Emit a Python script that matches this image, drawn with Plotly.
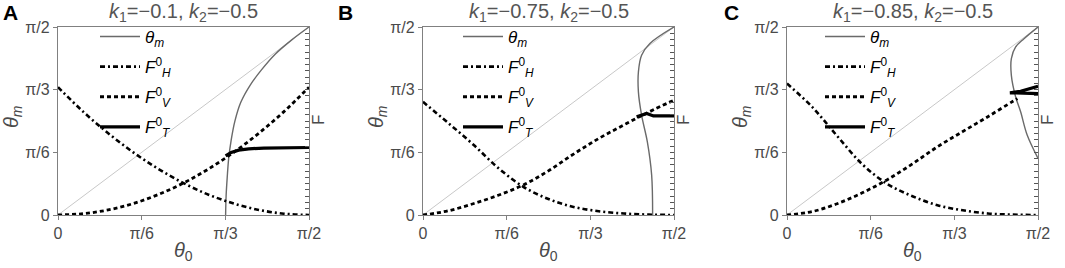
import math
import plotly.graph_objects as go

PI = math.pi
H = PI / 2

# ---------------- data (theta0 / theta_m in radians, F in F-axis units) ----------------
titles = ["<i>k</i><sub>1</sub>=−0.1, <i>k</i><sub>2</sub>=−0.5",
          "<i>k</i><sub>1</sub>=−0.75, <i>k</i><sub>2</sub>=−0.5",
          "<i>k</i><sub>1</sub>=−0.85, <i>k</i><sub>2</sub>=−0.5"]
panel_letters = ["A", "B", "C"]
tick_vals = [0, PI / 6, PI / 3, PI / 2]
tick_text = ["0", "π/6", "π/3", "π/2"]

theta0_grid = [0.0, 0.157, 0.314, 0.471, 0.628, 0.785, 0.942, 1.100, 1.257, 1.414, 1.571]
diag_x = [0.0, 1.571]
diag_y = [0.0, 1.571]

# Panel A  (k1=-0.1)
a_FH = [2.04, 1.65, 1.305, 1.0, 0.735, 0.51, 0.324, 0.183, 0.081, 0.021, 0.0]
a_FV = [0.0, 0.021, 0.081, 0.183, 0.327, 0.51, 0.735, 1.0, 1.305, 1.65, 2.04]
a_tm_x = [1.049, 1.052, 1.059, 1.068, 1.084, 1.107, 1.144, 1.202, 1.272, 1.359, 1.461, 1.571]
a_tm_y = [0.0, 0.157, 0.314, 0.471, 0.628, 0.785, 0.942, 1.084, 1.210, 1.343, 1.461, 1.571]
a_FT_x = [1.049, 1.084, 1.131, 1.194, 1.288, 1.414, 1.571]
a_FT = [0.942, 0.999, 1.035, 1.056, 1.068, 1.074, 1.077]

# Panel B  (k1=-0.75)
b_FH = [1.806, 1.47, 1.125, 0.75, 0.45, 0.255, 0.129, 0.06, 0.024, 0.006, 0.0]
b_FV = [0.0, 0.066, 0.18, 0.315, 0.48, 0.705, 0.972, 1.221, 1.437, 1.644, 1.833]
b_tm_x = [1.437, 1.431, 1.404, 1.368, 1.348, 1.348, 1.368, 1.420, 1.571]
b_tm_y = [0.0, 0.333, 0.611, 0.834, 1.029, 1.195, 1.335, 1.433, 1.571]
b_FT_x = [1.337, 1.400, 1.442, 1.571]
b_FT = [1.566, 1.620, 1.581, 1.581]

# Panel C  (k1=-0.85)
c_FH = [2.097, 1.725, 1.26, 0.81, 0.495, 0.3, 0.156, 0.075, 0.024, 0.006, 0.0]
c_FV_x = theta0_grid[:10] + [1.442]
c_FV = [0.0, 0.054, 0.18, 0.354, 0.564, 0.816, 1.089, 1.332, 1.569, 1.815, 1.857]
c_tm_x = [1.571, 1.503, 1.462, 1.431, 1.404, 1.404, 1.431, 1.483, 1.571]
c_tm_y = [0.473, 0.668, 0.862, 0.986, 1.167, 1.307, 1.404, 1.473, 1.571]
c_FT_x = [1.571, 1.462, 1.395, 1.483, 1.571]
c_FT = [2.055, 1.974, 1.950, 1.938, 1.938]

panels = [
    dict(FH_x=theta0_grid, FH=a_FH, FV_x=theta0_grid, FV=a_FV, tm_x=a_tm_x, tm_y=a_tm_y, FT_x=a_FT_x, FT=a_FT),
    dict(FH_x=theta0_grid, FH=b_FH, FV_x=theta0_grid, FV=b_FV, tm_x=b_tm_x, tm_y=b_tm_y, FT_x=b_FT_x, FT=b_FT),
    dict(FH_x=theta0_grid, FH=c_FH, FV_x=c_FV_x, FV=c_FV, tm_x=c_tm_x, tm_y=c_tm_y, FT_x=c_FT_x, FT=c_FT),
]

# ---------------- layout geometry (pixels) ----------------
W, Hpx = 1065, 268
px_left = [58, 423, 787]
px_right = [309, 674, 1038]
px_top, px_bot = 27, 215
legend_left = [95, 458, 820]
letter_x = [10, 345, 731]

fig = go.Figure()
FONT = "Liberation Sans, Arial, sans-serif"
TXT = "#4a4a4a"

for i, p in enumerate(panels):
    n = "" if i == 0 else str(i + 1)
    xa = "x" + n
    ya = "y" + n
    ya2 = "y" + str(i + 4)
    leg = "legend" + n
    fig.add_trace(go.Scatter(x=diag_x, y=diag_y, mode="lines", xaxis=xa, yaxis=ya,
                             line=dict(color="#c8c8c8", width=1), showlegend=False, hoverinfo="skip"))
    fig.add_trace(go.Scatter(x=p["tm_x"], y=p["tm_y"], mode="lines", xaxis=xa, yaxis=ya,
                             name="<i>θ<sub>m</sub></i>", legend=leg, legendgroup="a",
                             line=dict(color="#6a6a6a", width=1.4, shape="spline")))
    fig.add_trace(go.Scatter(x=p["FH_x"], y=p["FH"], mode="lines", xaxis=xa, yaxis=ya2,
                             name="<i>F</i><sup>0</sup><sub><i>H</i></sub>", legend=leg, legendgroup="b",
                             line=dict(color="black", width=2.6, dash="5px,3px,2px,3px", shape="spline")))
    fig.add_trace(go.Scatter(x=p["FV_x"], y=p["FV"], mode="lines", xaxis=xa, yaxis=ya2,
                             name="<i>F</i><sup>0</sup><sub><i>V</i></sub>", legend=leg, legendgroup="c",
                             line=dict(color="black", width=2.8, dash="4px,3px", shape="spline")))
    fig.add_trace(go.Scatter(x=p["FT_x"], y=p["FT"], mode="lines", xaxis=xa, yaxis=ya2,
                             name="<i>F</i><sup>0</sup><sub><i>T</i></sub>", legend=leg, legendgroup="d",
                             line=dict(color="black", width=3.2)))

    dom_x = [px_left[i] / W, px_right[i] / W]
    dom_y = [1 - px_bot / Hpx, 1 - px_top / Hpx]
    fig.layout["xaxis" + n] = dict(domain=dom_x, anchor=ya, range=[0, H], tickvals=tick_vals, ticktext=tick_text,
                                   showgrid=False, zeroline=False, showline=True, mirror=True,
                                   linecolor="#808080", linewidth=1.3, ticks="outside", ticklen=4,
                                   tickcolor="#808080", tickfont=dict(size=16, color=TXT, family=FONT))
    fig.layout["yaxis" + n] = dict(domain=dom_y, anchor=xa, range=[0, H], tickvals=tick_vals, ticktext=tick_text,
                                   showgrid=False, zeroline=False, showline=True, mirror=True,
                                   linecolor="#808080", linewidth=1.3, ticks="outside", ticklen=4,
                                   tickcolor="#808080", tickfont=dict(size=16, color=TXT, family=FONT))
    fig.layout["yaxis" + str(i + 4)] = dict(overlaying=ya, anchor=xa, side="right", range=[0, 3], dtick=0.1,
                                            showgrid=False, zeroline=False, showline=False,
                                            ticks="inside", ticklen=4, tickcolor="#555555", tickwidth=1,
                                            showticklabels=False)
    fig.layout[leg] = dict(x=legend_left[i] / W, y=1 - 19 / Hpx, xanchor="left", yanchor="top",
                           bgcolor="rgba(0,0,0,0)", traceorder="grouped", tracegroupgap=5, itemwidth=40,
                           font=dict(size=17, color="black", family=FONT))
    cx = (px_left[i] + px_right[i]) / 2 / W
    fig.add_annotation(x=cx, y=1 - 12 / Hpx, xref="paper", yref="paper", text=titles[i], showarrow=False,
                       font=dict(size=20, color="#555555", family=FONT), xanchor="center", yanchor="middle")
    fig.add_annotation(x=letter_x[i] / W, y=1 - 13 / Hpx, xref="paper", yref="paper", text="<b>" + panel_letters[i] + "</b>",
                       showarrow=False, font=dict(size=21, color="black", family=FONT), xanchor="center", yanchor="middle")
    fig.add_annotation(x=cx, y=1 - 251 / Hpx, xref="paper", yref="paper", text="<i>θ</i><sub>0</sub>", showarrow=False,
                       font=dict(size=20, color=TXT, family=FONT), xanchor="center", yanchor="middle")
    fig.add_annotation(x=(px_left[i] - 46) / W, y=1 - 117 / Hpx, xref="paper", yref="paper", text="<i>θ<sub>m</sub></i>",
                       showarrow=False, textangle=-90, font=dict(size=20, color=TXT, family=FONT),
                       xanchor="center", yanchor="middle")
    fig.add_annotation(x=(px_right[i] + 10) / W, y=1 - 120 / Hpx, xref="paper", yref="paper", text="F",
                       showarrow=False, textangle=-90, font=dict(size=17, color=TXT, family=FONT),
                       xanchor="center", yanchor="middle")

fig.update_layout(width=W, height=Hpx, margin=dict(l=0, r=0, t=0, b=0, autoexpand=False),
                  plot_bgcolor="white", paper_bgcolor="white", font=dict(family=FONT))

fig.write_html("out.html", config={"displayModeBar": False},
               post_script="document.body.style.margin='0';")
